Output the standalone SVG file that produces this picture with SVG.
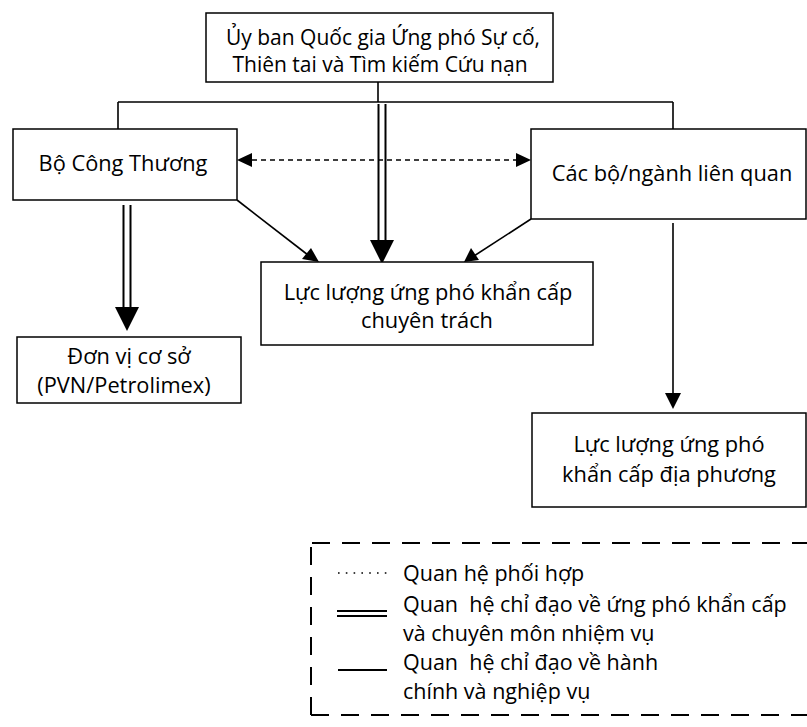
<svg xmlns="http://www.w3.org/2000/svg" width="807" height="727" viewBox="0 0 807 727">
<defs>
<style>
.box{fill:#fff;stroke:#000;stroke-width:1.5}
.t{font-family:"Open Sans","Noto Sans","Liberation Sans",sans-serif;font-size:21.8px;fill:#000;text-anchor:middle}
.tl{font-family:"Open Sans","Noto Sans","Liberation Sans",sans-serif;font-size:21.5px;fill:#000}
.ln{stroke:#000;stroke-width:1.6;fill:none}
.dbl{stroke:#000;stroke-width:2;fill:none}
.dash{stroke:#000;stroke-width:1.3;fill:none;stroke-dasharray:5 4}
.head{fill:#000}
.leg{stroke:#000;stroke-width:2;fill:none;stroke-dasharray:18 12}
</style>
</defs>
<g id="connectors">
<path class="ln" d="M378,82 V102 M118,102 H673 M118,102 V129 M673,102 V129"/>
<path class="dbl" d="M378.5,104 V242 M385.5,104 V242"/>
<polygon class="head" points="370,240 394,240 382,264"/>
<path class="dbl" d="M123.5,205 V309 M130.5,205 V309"/>
<polygon class="head" points="115,307 139,307 127,331"/>
<path class="dash" d="M252,160 H516"/>
<polygon class="head" points="237,160 252,153 252,167"/>
<polygon class="head" points="531,160 516,153 516,167"/>
<path class="ln" d="M237,200 L308,255"/>
<polygon class="head" points="319,262 302,259 311,248"/>
<path class="ln" d="M531,219 L474,256"/>
<polygon class="head" points="464,262 471,248 479,260"/>
<path class="ln" d="M673,223 V395"/>
<polygon class="head" points="665,393 681,393 673,409"/>
</g>
<g id="n_top">
<rect class="box" x="206" y="13" width="347" height="69"/>
<text class="t" x="383" y="45" style="font-size:21px">Ủy ban Quốc gia Ứng phó Sự cố,</text>
<text class="t" x="380" y="72" style="font-size:21px">Thiên tai và Tìm kiếm Cứu nạn</text>
</g>
<g id="n_bct">
<rect class="box" x="13" y="129" width="224" height="71"/>
<text class="t" x="123" y="171">Bộ Công Thương</text>
</g>
<g id="n_cacbo">
<rect class="box" x="531" y="129" width="275" height="90"/>
<text class="t" x="672" y="181">Các bộ/ngành liên quan</text>
</g>
<g id="n_chuyentrach">
<rect class="box" x="261" y="262" width="332" height="83"/>
<text class="t" x="428" y="300">Lực lượng ứng phó khẩn cấp</text>
<text class="t" x="427" y="328">chuyên trách</text>
</g>
<g id="n_donvi">
<rect class="box" x="17" y="337" width="224" height="66"/>
<text class="t" x="129" y="364">Đơn vị cơ sở</text>
<text class="t" x="124" y="393">(PVN/Petrolimex)</text>
</g>
<g id="n_diaphuong">
<rect class="box" x="532" y="413" width="274" height="94"/>
<text class="t" x="669" y="452">Lực lượng ứng phó</text>
<text class="t" x="669" y="482">khẩn cấp địa phương</text>
</g>
<g id="legend">
<path class="leg" d="M312,543 H812"/>
<path class="leg" d="M311,715 H812"/>
<path class="leg" d="M311,715 V543"/>
<path d="M338,573 H388" stroke="#000" stroke-width="1.6" stroke-dasharray="1.6 6.2" fill="none"/>
<path d="M337,611 H387 M337,616 H387" stroke="#000" stroke-width="1.8" fill="none"/>
<path d="M338,670 H387" stroke="#000" stroke-width="2" fill="none"/>
<text class="tl" x="403" y="581">Quan hệ phối hợp</text>
<text class="tl" x="403" y="612" xml:space="preserve">Quan  hệ chỉ đạo về ứng phó khẩn cấp</text>
<text class="tl" x="403" y="641">và chuyên môn nhiệm vụ</text>
<text class="tl" x="403" y="670" xml:space="preserve">Quan  hệ chỉ đạo về hành</text>
<text class="tl" x="403" y="699">chính và nghiệp vụ</text>
</g>
</svg>
